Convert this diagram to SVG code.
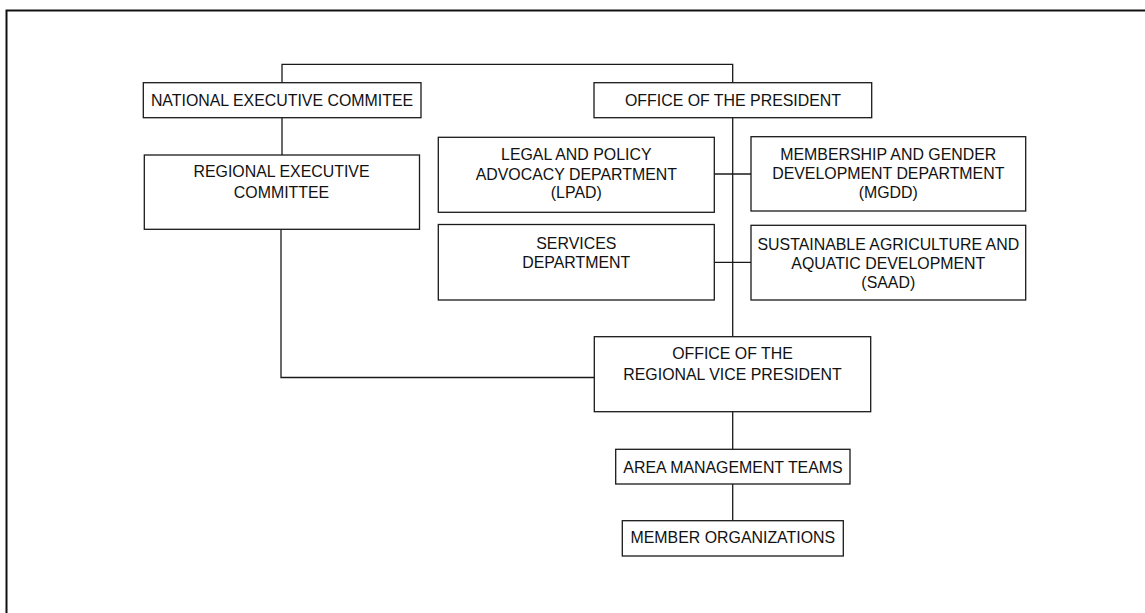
<svg xmlns="http://www.w3.org/2000/svg" width="1145" height="613" viewBox="0 0 1145 613">
  <style>
    .box { fill: #ffffff; stroke: #1a1a1a; stroke-width: 1.3; }
    .wire { fill: none; stroke: #1a1a1a; stroke-width: 1.3; }
    .frame { fill: none; stroke: #111111; stroke-width: 2; }
    text { font-family: "Liberation Sans", Arial, sans-serif; font-size: 15.9px; fill: #111111; text-anchor: middle; }
  </style>
  <rect width="1145" height="613" fill="#ffffff"/>
  <!-- page frame -->
  <path class="frame" d="M6.5,613 V10.5 H1145"/>

  <g id="connectors">
    <path class="wire" d="M282,82.7 V64.3 H732.7 V82.7"/>
    <path class="wire" d="M282,117.7 V155"/>
    <path class="wire" d="M281,229.3 V377.5 H594.3"/>
    <path class="wire" d="M732.7,117.7 V336.7"/>
    <path class="wire" d="M714.3,174 H751"/>
    <path class="wire" d="M714.3,262.3 H751"/>
    <path class="wire" d="M732.7,411.7 V449.3"/>
    <path class="wire" d="M732.7,484 V520.7"/>
  </g>

  <g id="national-executive">
    <rect class="box" x="143.3" y="82.7" width="277.7" height="35"/>
    <text x="282" y="106">NATIONAL EXECUTIVE COMMITEE</text>
  </g>

  <g id="office-president">
    <rect class="box" x="594" y="82.7" width="277.7" height="35"/>
    <text x="733" y="106">OFFICE OF THE PRESIDENT</text>
  </g>

  <g id="regional-executive">
    <rect class="box" x="144.3" y="155" width="275.2" height="74.3"/>
    <text x="281.5" y="177">REGIONAL EXECUTIVE</text>
    <text x="281.5" y="197.7">COMMITTEE</text>
  </g>

  <g id="lpad">
    <rect class="box" x="438.3" y="137.3" width="276" height="75"/>
    <text x="576.3" y="160">LEGAL AND POLICY</text>
    <text x="576.3" y="179.5">ADVOCACY DEPARTMENT</text>
    <text x="576.3" y="198.3">(LPAD)</text>
  </g>

  <g id="mgdd">
    <rect class="box" x="751" y="136.7" width="274.7" height="74.3"/>
    <text x="888.3" y="159.5">MEMBERSHIP AND GENDER</text>
    <text x="888.3" y="179.3">DEVELOPMENT DEPARTMENT</text>
    <text x="888.3" y="198.3">(MGDD)</text>
  </g>

  <g id="services">
    <rect class="box" x="438.3" y="224.5" width="276" height="75.5"/>
    <text x="576.3" y="248.5">SERVICES</text>
    <text x="576.3" y="268.3">DEPARTMENT</text>
  </g>

  <g id="saad">
    <rect class="box" x="751" y="225.3" width="274.7" height="74.7"/>
    <text x="888.3" y="250">SUSTAINABLE AGRICULTURE AND</text>
    <text x="888.3" y="269.3">AQUATIC DEVELOPMENT</text>
    <text x="888.3" y="288.3">(SAAD)</text>
  </g>

  <g id="regional-vice-president">
    <rect class="box" x="594.3" y="336.7" width="276.4" height="75"/>
    <text x="732.5" y="359.3">OFFICE OF THE</text>
    <text x="732.5" y="380">REGIONAL VICE PRESIDENT</text>
  </g>

  <g id="area-management">
    <rect class="box" x="615.7" y="449.3" width="234.3" height="34.7"/>
    <text x="733" y="472.7">AREA MANAGEMENT TEAMS</text>
  </g>

  <g id="member-organizations">
    <rect class="box" x="622.3" y="520.7" width="221" height="35.3"/>
    <text x="732.8" y="543">MEMBER ORGANIZATIONS</text>
  </g>
</svg>
